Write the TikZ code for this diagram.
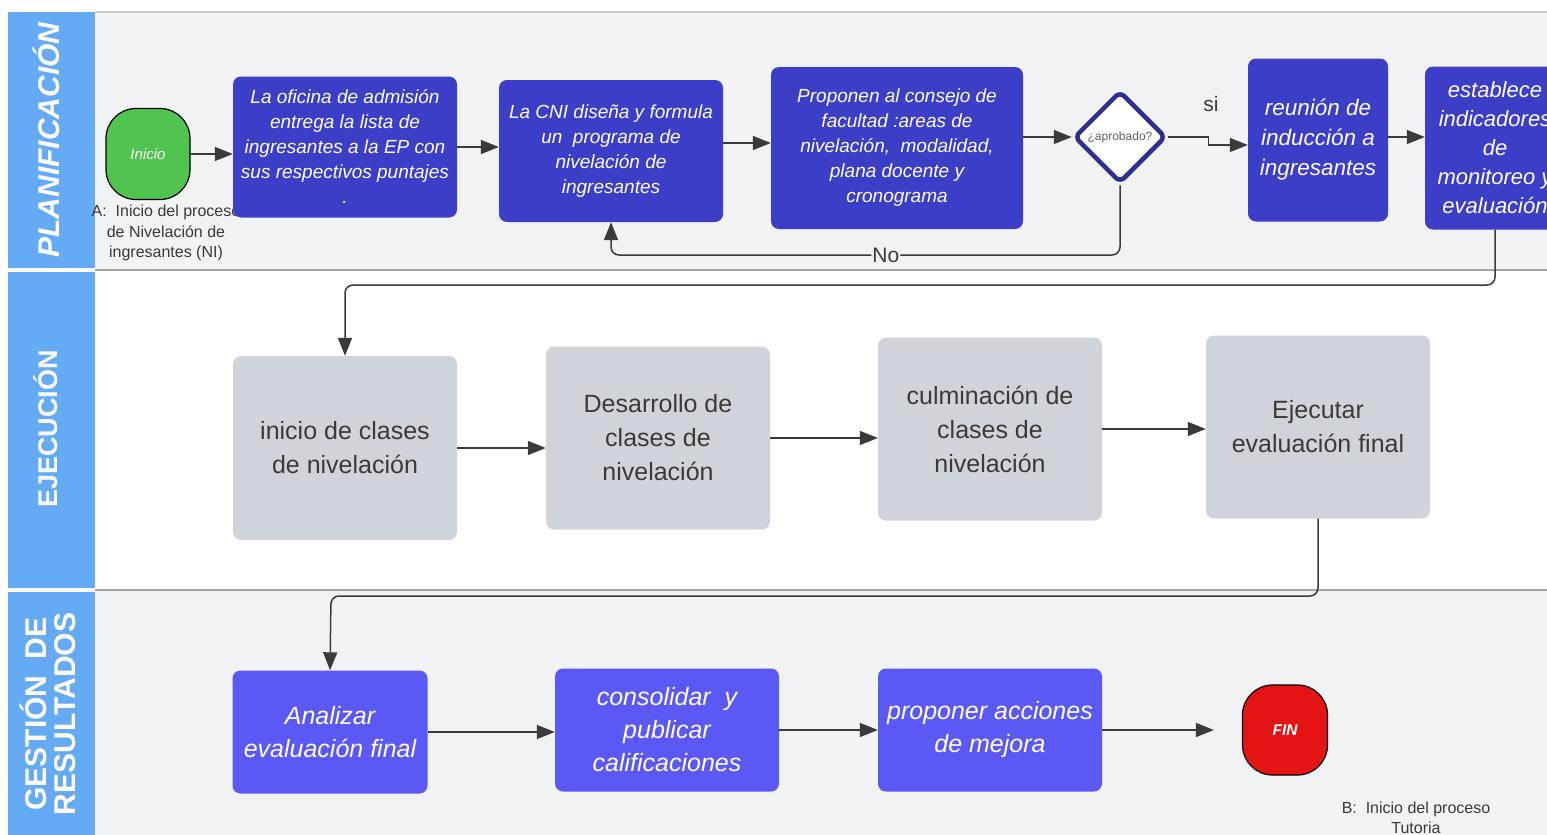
\documentclass[tikz,border=0pt]{standalone}
\usepackage{fontspec}
\setmainfont{Liberation Sans}
\usetikzlibrary{arrows.meta,shapes.geometric}

\definecolor{lanehead}{RGB}{100,170,245}
\definecolor{lanebg}{RGB}{241,242,244}
\definecolor{lanerule}{RGB}{165,165,168}
\definecolor{planfill}{RGB}{60,62,200}
\definecolor{ejecfill}{RGB}{207,212,219}
\definecolor{gestfill}{RGB}{92,88,245}
\definecolor{iniciofill}{RGB}{80,196,78}
\definecolor{finfill}{RGB}{228,20,20}
\definecolor{decline}{RGB}{43,47,143}
\definecolor{ink}{RGB}{58,58,58}

\begin{document}
\begin{tikzpicture}[x=1pt,y=-1pt,
    link/.style={line width=1.5pt,draw=ink,rounded corners=8pt,-{Triangle[length=18pt,width=14pt]}},
    planbox/.style={fill=planfill,text=white,rounded corners=8pt,align=center,inner sep=3pt,font=\fontsize{19}{25}\selectfont\itshape},
    ejecbox/.style={fill=ejecfill,text=ink,rounded corners=8pt,align=center,inner sep=3pt,minimum width=224pt,minimum height=183pt,font=\fontsize{25}{34}\selectfont},
    gestbox/.style={fill=gestfill,text=white,rounded corners=8pt,align=center,inner sep=3pt,minimum height=123pt,font=\fontsize{25}{33}\selectfont\itshape},
    term/.style={draw=black,line width=1.2pt,rounded corners=30pt,text=white,minimum width=84pt,minimum height=91pt},
    note/.style={align=center,inner sep=0pt,text=ink,font=\fontsize{16}{20.5}\selectfont},
    lanetitle/.style={rotate=90,text=white,align=center,font=\fontsize{30}{29}\selectfont\bfseries}]

    \useasboundingbox (0,0) rectangle (1547,835);
    \clip (0,0) rectangle (1547,835);

    \fill[lanebg] (95,12) rectangle (1547,270);
    \fill[white] (95,270) rectangle (1547,590);
    \fill[lanebg] (95,590) rectangle (1547,835);
    \draw[lanerule!60,line width=1.2pt] (95,12) -- (1547,12);
    \draw[lanerule,line width=2.5pt] (95,270) -- (1547,270);
    \draw[lanerule,line width=2.5pt] (95,590) -- (1547,590);

    \fill[lanehead] (8,12) rectangle (95,268);
    \fill[lanehead] (8,272) rectangle (95,588);
    \fill[lanehead] (8,592) rectangle (95,835);
    \node[lanetitle,font=\fontsize{30}{29}\selectfont\bfseries\itshape] (lplan) at (46,140) {PLANIFICACIÓN};
    \node[lanetitle,font=\fontsize{27}{29}\selectfont\bfseries] (lejec) at (46,429) {EJECUCIÓN};
    \node[lanetitle] (lgest) at (48,714) {GESTIÓN\ \ DE\\RESULTADOS};

    \node[note] (notaA) at (166,233) {A:\ \ Inicio del proceso\\de Nivelación de\\ingresantes (NI)};
    \node[note] (notaB) at (1416,818) {B:\ \ Inicio del proceso\\Tutoria};

    \node[term,fill=iniciofill,font=\fontsize{15}{17}\selectfont\itshape] (inicio) at (148,154) {Inicio};
    \node[planbox,minimum width=224pt,minimum height=141pt] (oficina) at (345,147) {La oficina de admisión\\entrega la lista de\\ingresantes a la EP con\\sus respectivos puntajes\\.};
    \node[planbox,minimum width=224pt,minimum height=142pt] (cni) at (611,151) {La CNI diseña y formula\\un\ \ programa de\\nivelación de\\ingresantes};
    \node[planbox,minimum width=252pt,minimum height=162pt] (consejo) at (897,148) {Proponen al consejo de\\facultad :areas de\\nivelación,\ \ modalidad,\\plana docente y\\cronograma};
    \node[diamond,draw=decline,line width=4.5pt,fill=white,rounded corners=6pt,minimum width=92pt,minimum height=92pt,inner sep=0pt,text=ink!80,font=\fontsize{12}{13}\selectfont] (aprob) at (1120,137) {¿aprobado?};
    \node[planbox,minimum width=140pt,minimum height=163pt,font=\fontsize{22.5}{30}\selectfont\itshape] (induccion) at (1318,140) {reunión de\\inducción a\\ingresantes};
    \node[planbox,minimum width=140pt,minimum height=163pt,font=\fontsize{22}{29}\selectfont\itshape] (indicadores) at (1495,148) {establece\\indicadores\\de\\monitoreo y\\evaluación};

    \node[ejecbox,minimum height=184pt] (inicioclases) at (345,448) {inicio de clases\\de nivelación};
    \node[ejecbox] (desarrollo) at (658,438) {Desarrollo de\\clases de\\nivelación};
    \node[ejecbox] (culminacion) at (990,429) {culminación de\\clases de\\nivelación};
    \node[ejecbox] (ejecutar) at (1318,427) {Ejecutar\\evaluación final};

    \node[gestbox,minimum width=195pt] (analizar) at (330,732) {Analizar\\evaluación final};
    \node[gestbox,minimum width=224pt] (consolidar) at (667,730) {consolidar\ \ y\\publicar\\calificaciones};
    \node[gestbox,minimum width=224pt] (proponer) at (990,730) {proponer acciones\\de mejora};
    \node[term,fill=finfill,minimum width=85pt,minimum height=90pt,font=\fontsize{15.5}{17}\selectfont\bfseries\itshape] (fin) at (1285,730) {FIN};

    \coordinate (nocorner) at (611,255);
    \coordinate (ejecorner) at (345,285);
    \coordinate (gestcorner) at (331,596);

    \draw[link] (inicio.east) -- (inicio.east -| oficina.west);
    \draw[link] (oficina.east) -- (oficina.east -| cni.west);
    \draw[link] (cni.east |- 0,143) -- (consejo.west |- 0,143);
    \draw[link] (consejo.east |- aprob) -- (aprob.west);
    \draw[link,rounded corners=0pt] (aprob.east) -- ++(40,0) -- ++(0,8) -- (induccion.west |- 0,145);
    \draw[link] (induccion.east |- 0,137) -- (indicadores.west |- 0,137);
    \draw[link] (aprob.south) |- node[pos=0.73,fill=lanebg,inner sep=1pt,text=ink,font=\fontsize{21}{24}\selectfont] (etiqno) {No} (nocorner) -- (cni.south);
    \node[text=ink,font=\fontsize{21}{24}\selectfont] (etiqsi) at (1211,104) {si};

    \draw[link] (indicadores.south) |- (ejecorner) -- (inicioclases.north);
    \draw[link] (inicioclases.east) -- (inicioclases.east -| desarrollo.west);
    \draw[link] (desarrollo.east) -- (desarrollo.east -| culminacion.west);
    \draw[link] (culminacion.east) -- (culminacion.east -| ejecutar.west);

    \draw[link] (ejecutar.south) |- (gestcorner) -- (analizar.north);
    \draw[link] (analizar.east) -- (analizar.east -| consolidar.west);
    \draw[link] (consolidar.east) -- (consolidar.east -| proponer.west);
    \draw[link,shorten >=28pt] (proponer.east) -- (proponer.east -| fin.west);
\end{tikzpicture}
\end{document}
